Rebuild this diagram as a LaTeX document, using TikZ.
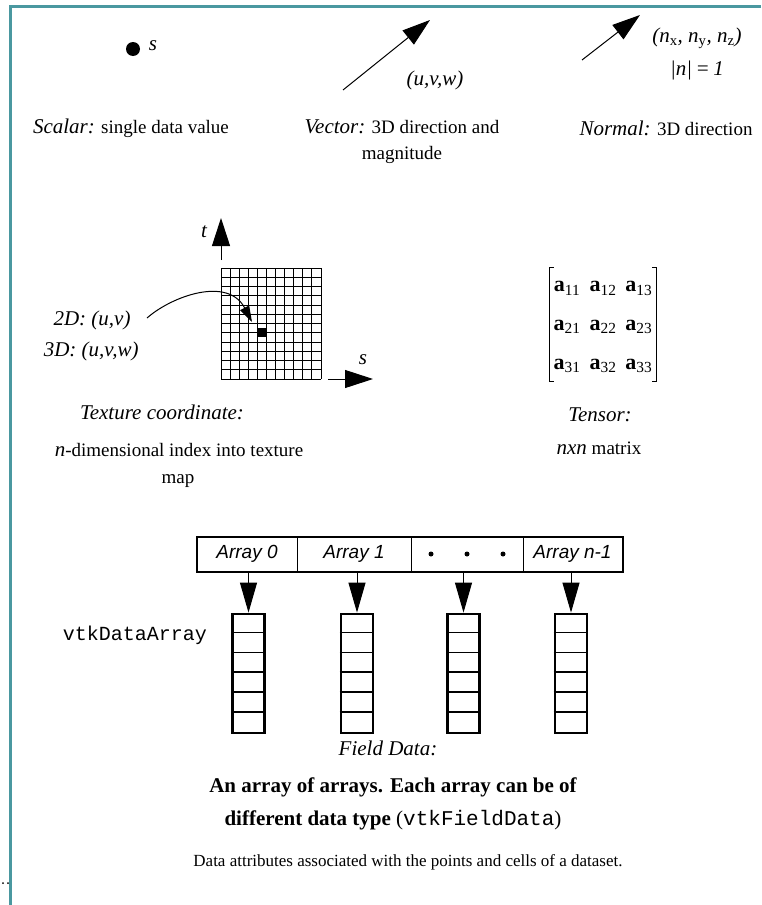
\documentclass[tikz,border=0pt]{standalone}
\usepackage{fontspec}
\setmainfont{Liberation Serif}
\setsansfont{Liberation Sans}
\setmonofont{Liberation Mono}
\usetikzlibrary{arrows.meta, matrix}

\definecolor{frameteal}{RGB}{74,152,160}

\tikzset{
    bigtip/.style={-{Triangle[length=28pt,width=18pt]}},
    smalltip/.style={-{Triangle[length=16pt,width=10pt]}},
    capit/.style={font=\fontsize{21}{25}\selectfont\itshape, inner sep=0pt},
    captx/.style={font=\fontsize{19}{23}\selectfont, inner sep=0pt},
    arrcell/.style={draw, line width=1pt, minimum height=34pt, inner sep=0pt,
        font=\fontsize{19}{22}\selectfont\sffamily\itshape},
    stack/.style={draw, line width=2.8pt, minimum width=32pt, minimum height=119pt, inner sep=0pt}
}

\begin{document}
\begin{tikzpicture}[x=1pt, y=-1pt, line width=1pt]
    \useasboundingbox (0,0) rectangle (761,905);

    % Frame
    \draw[frameteal, line width=3pt] (761,6) -- (10,6) -- (10,905);
    \fill (3,883) circle (1pt) (8,883) circle (1pt);

    % Scalar
    \node[circle, fill, inner sep=0pt, minimum size=14pt] (sdot) at (133,49) {};
    \node[capit] (slabel) at (153,46) {s};
    \node[captx] (scalarcap) at (131,128) {\textit{\fontsize{21}{25}\selectfont Scalar:} single data value};

    % Vector
    \coordinate (vfrom) at (343,90);
    \coordinate (vto) at (430,20);
    \draw[bigtip] (vfrom) -- (vto);
    \node[capit] (uvw) at (435,80) {(u,v,w)};
    \node[captx, align=center] (vectorcap) at (402,142)
        {\textit{\fontsize{21}{25}\selectfont Vector:} 3D direction and\\[3pt]magnitude};

    % Normal
    \coordinate (nfrom) at (582,60);
    \coordinate (nto) at (640,15);
    \draw[bigtip] (nfrom) -- (nto);
    \node[capit] (nxyz) at (697,38) {(n\textsubscript{\upshape x}, n\textsubscript{\upshape y}, n\textsubscript{\upshape z})};
    \node[capit] (unit) at (697,70) {|n|\,=\,1};
    \node[captx] (normalcap) at (666,128) {\textit{\fontsize{21}{25}\selectfont Normal:} 3D direction};

    % Texture map: 11 x 12 grid
    \foreach \i in {0,...,11}
        \draw[line width=0.9pt] ({221+\i*100/11},268) -- ({221+\i*100/11},379);
    \foreach \j in {0,...,12}
        \draw[line width=0.9pt] (221,{268+\j*111/12}) -- (321,{268+\j*111/12});
    \fill ({221+4*100/11},{268+6.5*111/12}) rectangle ({221+5*100/11},{268+7.5*111/12});
    \coordinate (tfrom) at (221,260);
    \coordinate (tto) at (221,218);
    \draw[bigtip] (tfrom) -- (tto);
    \node[capit] (tlabel) at (204,232) {t};
    \coordinate (sfrom) at (328,379);
    \coordinate (sto) at (373,379);
    \draw[bigtip] (sfrom) -- (sto);
    \node[capit] (slabel2) at (363,360) {s};

    \node[capit, anchor=east] (uv2d) at (131,320) {2D: (u,v)};
    \node[capit, anchor=east] (uv3d) at (139,351) {3D: (u,v,w)};
    \coordinate (cfrom) at (147,318);
    \coordinate (cto) at (252,322);
    \draw[smalltip] (cfrom) .. controls (172,296) and (228,276) .. (cto);

    \node[capit] (texcap) at (162,412) {Texture coordinate:};
    \node[captx] (texline1) at (179,450) {\textit{\fontsize{21}{25}\selectfont n}-dimensional index into texture};
    \node[captx] (texline2) at (178,481) {map};

    % Tensor
    \matrix (tensor) [matrix of nodes, inner sep=0pt, column sep=9pt, row sep=25pt,
        nodes={font=\fontsize{22}{26}\selectfont, inner sep=0pt}] at (603,327) {
        \textbf{a}\textsubscript{11} & \textbf{a}\textsubscript{12} & \textbf{a}\textsubscript{13} \\
        \textbf{a}\textsubscript{21} & \textbf{a}\textsubscript{22} & \textbf{a}\textsubscript{23} \\
        \textbf{a}\textsubscript{31} & \textbf{a}\textsubscript{32} & \textbf{a}\textsubscript{33} \\
    };
    \draw ([shift={(-4pt,14pt)}]tensor.north west) coordinate (lbt) -- ([shift={(-4pt,-9pt)}]tensor.south west) coordinate (lbb);
    \draw (lbt) -- ++(5,0) (lbb) -- ++(5,0);
    \draw ([shift={(4pt,14pt)}]tensor.north east) coordinate (rbt) -- ([shift={(4pt,-9pt)}]tensor.south east) coordinate (rbb);
    \draw (rbt) -- ++(-5,0) (rbb) -- ++(-5,0);
    \node[capit] (tensorcap) at (600,415) {Tensor:};
    \node[captx] (tensorline) at (599,448) {\textit{\fontsize{21}{25}\selectfont nxn} matrix};

    % Field data
    \node[arrcell, minimum width=100pt] (cell0) at (247,554) {Array 0};
    \node[arrcell, minimum width=114pt] (cell1) at (354,554) {Array 1};
    \node[arrcell, minimum width=112pt] (cell2) at (467,554) {};
    \node[arrcell, minimum width=99pt] (cell3) at (572.5,554) {Array n-1};
    \draw[line width=2pt] (cell0.north west) rectangle (cell3.south east);
    \foreach \dx in {-36,0,36}
        \fill ([xshift=\dx pt]cell2.center) circle (2.5pt);

    \foreach \n/\x in {0/248.5, 1/357, 2/463.5, 3/571} {
        \node[stack] (stack\n) at (\x,673.5) {};
        \foreach \k in {1,...,5}
            \draw[line width=1.5pt] ([yshift={-\k*119/6 pt}]stack\n.north west) -- ([yshift={-\k*119/6 pt}]stack\n.north east);
        \draw[-{Triangle[length=30pt,width=17pt]}] (stack\n.north |- cell\n.south) -- (stack\n.north);
    }
    \node[font=\fontsize{20}{24}\selectfont\ttfamily, inner sep=0pt] (dalabel) at (135,635) {vtkDataArray};

    \node[capit] (fieldcap) at (388,748) {Field Data:};
    \node[font=\fontsize{21}{25}\selectfont\bfseries, inner sep=0pt] (fieldline1) at (393,787) {An array of arrays. Each array can be of};
    \node[font=\fontsize{21}{25}\selectfont\bfseries, inner sep=0pt] (fieldline2) at (393,820)
        {different data type \textmd{(\texttt{vtkFieldData})}};

    \node[font=\fontsize{17}{20}\selectfont, inner sep=0pt] (caption) at (408,862)
        {Data attributes associated with the points and cells of a dataset.};
\end{tikzpicture}
\end{document}
